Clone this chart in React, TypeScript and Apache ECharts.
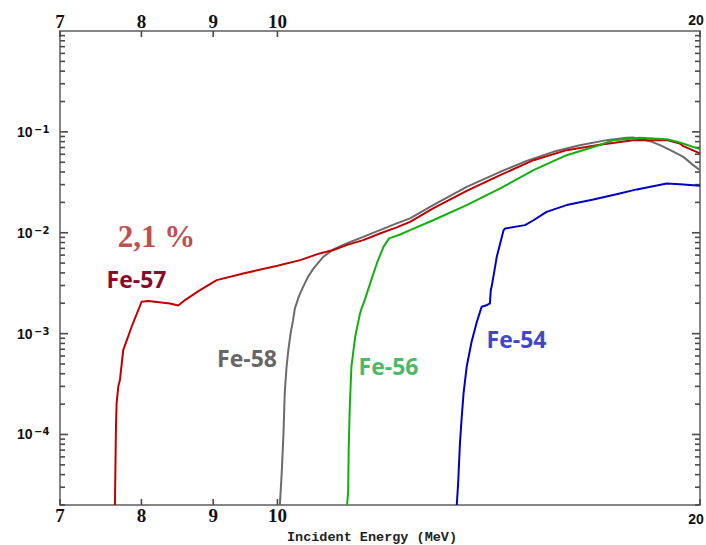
import React, { useEffect, useRef } from 'react';
import * as echarts from 'echarts';

const X_MIN = 7;
const X_MAX = 20;
const Y_MIN = 2e-5;
const Y_MAX = 1;

const xTickValues = [7, 8, 9, 10, 20];
const xTickLabels = ['7', '8', '9', '10', '20'];
const yDecades = [1e-4, 1e-3, 1e-2, 1e-1];
const yDecadeExponents = ['−4', '−3', '−2', '−1'];
const yMinorMultipliers = [2, 3, 4, 5, 6, 7, 8, 9];
const yMinorDecades = [1e-5, 1e-4, 1e-3, 1e-2, 1e-1];

const fe57: [number, number][] = [
  [7.66, 2.0e-5], [7.673, 1.19e-4], [7.681, 2.03e-4], [7.702, 2.97e-4], [7.723, 3.46e-4],
  [7.765, 6.86e-4], [7.873, 1.17e-3], [8.003, 2.07e-3], [8.091, 2.1e-3], [8.384, 1.99e-3],
  [8.499, 1.9e-3], [8.593, 2.15e-3], [8.807, 2.7e-3], [9.052, 3.39e-3], [9.455, 3.95e-3],
  [10.0, 4.7e-3], [10.38, 5.35e-3], [10.72, 6.24e-3], [10.96, 6.73e-3], [11.2, 7.54e-3],
  [11.51, 8.45e-3], [11.83, 9.84e-3], [12.16, 1.13e-2], [12.43, 1.28e-2], [12.91, 1.74e-2],
  [13.64, 2.6e-2], [14.41, 3.72e-2], [15.22, 5.24e-2], [16.07, 6.59e-2], [16.97, 7.45e-2],
  [17.92, 8.28e-2], [18.94, 8.28e-2], [19.35, 7.67e-2], [19.46, 7.21e-2], [20.0, 6.11e-2],
];

const fe58: [number, number][] = [
  [10.04, 2.0e-5], [10.07, 4.12e-5], [10.1, 1.03e-4], [10.12, 2.55e-4], [10.15, 4.6e-4],
  [10.18, 6.86e-4], [10.22, 1.02e-3], [10.26, 1.36e-3], [10.29, 1.78e-3], [10.36, 2.35e-3],
  [10.43, 2.91e-3], [10.52, 3.7e-3], [10.61, 4.43e-3], [10.78, 5.77e-3],
  [10.96, 6.83e-3], [11.2, 7.83e-3], [11.51, 9.1e-3], [11.83, 1.06e-2], [12.16, 1.24e-2],
  [12.43, 1.39e-2], [12.91, 1.88e-2], [13.64, 2.85e-2], [14.41, 4.02e-2], [15.05, 5.16e-2],
  [15.72, 6.34e-2], [16.42, 7.38e-2], [17.16, 8.28e-2], [17.73, 8.73e-2], [17.92, 8.81e-2],
  [18.12, 8.5e-2], [18.43, 8.09e-2], [18.73, 7.38e-2], [18.94, 6.85e-2], [19.25, 6.11e-2],
  [19.46, 5.65e-2], [19.78, 4.68e-2], [20.0, 4.17e-2],
];

const fe56: [number, number][] = [
  [11.21, 2.0e-5], [11.23, 2.7e-5], [11.24, 7.0e-5], [11.26, 1.88e-4], [11.29, 4.69e-4],
  [11.36, 9.3e-4], [11.45, 1.58e-3], [11.48, 1.78e-3], [11.54, 2.15e-3], [11.6, 2.7e-3],
  [11.77, 4.96e-3], [11.9, 7.25e-3], [12.01, 8.79e-3], [12.23, 9.6e-3], [12.43, 1.06e-2],
  [12.91, 1.33e-2], [13.64, 1.88e-2], [14.41, 2.75e-2], [15.22, 4.17e-2], [16.07, 5.87e-2],
  [16.97, 7.4e-2], [17.35, 8.28e-2], [17.92, 8.61e-2], [18.12, 8.73e-2], [18.94, 8.47e-2],
  [19.35, 7.85e-2], [20.0, 6.74e-2],
];

const fe54: [number, number][] = [
  [13.42, 2.0e-5], [13.45, 3.28e-5], [13.49, 8.17e-5], [13.53, 1.5e-4], [13.57, 2.55e-4],
  [13.64, 4.69e-4], [13.75, 8.3e-4], [13.87, 1.31e-3], [13.98, 1.85e-3], [14.09, 1.91e-3],
  [14.17, 1.99e-3], [14.19, 2.7e-3], [14.21, 2.91e-3], [14.33, 5.77e-3], [14.49, 1.06e-2],
  [14.53, 1.1e-2], [15.01, 1.19e-2], [15.22, 1.33e-2], [15.55, 1.61e-2], [16.07, 1.88e-2],
  [16.79, 2.14e-2], [17.44, 2.41e-2], [18.03, 2.69e-2], [18.94, 3.08e-2], [19.35, 3.03e-2],
  [20.0, 2.92e-2],
];

const seriesNames = ['Fe-58', 'Fe-57', 'Fe-56', 'Fe-54'];
const annotationTexts = ['2,1 %', 'Fe-57', 'Fe-58', 'Fe-56', 'Fe-54'];
const axisTitle = 'Incident Energy (MeV)';

const TICK = '#4a4a4a';
const LABEL = '#111';

function txt(x: number, y: number, text: string, st: any, align = 'center', valign = 'middle') {
  return {
    type: 'text',
    x,
    y,
    style: {
      text,
      fill: LABEL,
      ...st,
      textAlign: align,
      textVerticalAlign: valign,
      align,
      verticalAlign: valign,
    },
  };
}

function tickRect(x: number, y: number, w: number, h: number) {
  return {
    type: 'rect',
    shape: { x: Math.min(x, x + w), y: Math.min(y, y + h), width: Math.abs(w), height: Math.abs(h) },
    style: { fill: TICK },
  };
}

export default function App() {
  const ref = useRef<HTMLDivElement>(null);

  useEffect(() => {
    if (!ref.current) return;
    const chart = echarts.init(ref.current, null, { renderer: 'svg' });

    const minorValues: number[] = [];
    yMinorDecades.forEach((d) =>
      yMinorMultipliers.forEach((m) => {
        const v = m * d;
        if (v >= Y_MIN * 0.999 && v <= Y_MAX) minorValues.push(v);
      })
    );

    const lineSeries = (name: string, data: [number, number][], color: string) => ({
      type: 'line',
      name,
      data,
      showSymbol: false,
      symbol: 'none',
      smooth: false,
      lineStyle: { color, width: 2 },
      itemStyle: { color },
    });

    const yTickSeries = (name: string, values: number[], len: number) => ({
      type: 'custom',
      name,
      clip: false,
      data: values.map((v) => [X_MIN, v]),
      renderItem: (params: any, api: any) => {
        const v = api.value(1);
        const l = api.coord([X_MIN, v]);
        const r = api.coord([X_MAX, v]);
        return {
          type: 'group',
          children: [tickRect(l[0], l[1] - 0.8, len, 1.6), tickRect(r[0], r[1] - 0.8, -len, 1.6)],
        };
      },
    });

    chart.setOption({
      animation: false,
      backgroundColor: '#fff',
      grid: {
        left: 60,
        right: 6,
        top: 31,
        bottom: 40,
        show: true,
        borderColor: '#5e5e5e',
        borderWidth: 1.5,
      },
      xAxis: {
        type: 'log',
        logBase: 10,
        min: X_MIN,
        max: X_MAX,
        axisLine: { show: false },
        axisTick: { show: false },
        axisLabel: { show: false },
        splitLine: { show: false },
      },
      yAxis: {
        type: 'log',
        logBase: 10,
        min: Y_MIN,
        max: Y_MAX,
        axisLine: { show: false },
        axisTick: { show: false },
        axisLabel: { show: false },
        splitLine: { show: false },
      },
      series: [
        lineSeries(seriesNames[0], fe58, '#6b6b6b'),
        lineSeries(seriesNames[1], fe57, '#c00000'),
        lineSeries(seriesNames[2], fe56, '#10b010'),
        lineSeries(seriesNames[3], fe54, '#0000c4'),
        {
          type: 'custom',
          name: 'xTicks',
          clip: false,
          data: xTickValues.map((v) => [v, Y_MIN]),
          renderItem: (params: any, api: any) => {
            const x = api.value(0);
            const b = api.coord([x, Y_MIN]);
            const t = api.coord([x, Y_MAX]);
            const label = xTickLabels[params.dataIndex];
            const sans = label === '20';
            const font = sans
              ? { fontFamily: 'Liberation Sans', fontSize: 14, fontWeight: 'bold' }
              : { fontFamily: 'Liberation Serif', fontSize: 19, fontWeight: 'bold' };
            const dx = sans ? -4 : 0;
            return {
              type: 'group',
              children: [
                tickRect(b[0] - 0.8, b[1], 1.6, -6),
                tickRect(t[0] - 0.8, t[1], 1.6, 6),
                txt(t[0] + dx, t[1] - (sans ? 11 : 9.5), label, font),
                txt(b[0] + dx, b[1] + (sans ? 14 : 10), label, font),
              ],
            };
          },
        },
        yTickSeries('yMajorTicks', yDecades, 8),
        yTickSeries('yMinorTicks', minorValues, 5),
        {
          type: 'custom',
          name: 'yLabels',
          clip: false,
          data: yDecades.map((d) => [X_MIN, d]),
          renderItem: (params: any, api: any) => {
            const v = api.value(1);
            const l = api.coord([X_MIN, v]);
            return {
              type: 'group',
              children: [
                txt(l[0] - 27.5, l[1], '10', { fontFamily: 'Liberation Sans', fontSize: 14, fontWeight: 'bold' }, 'right'),
                txt(l[0] - 26, l[1] - 2.5, yDecadeExponents[params.dataIndex], { fontFamily: 'DejaVu Sans', fontSize: 10, fontWeight: 'bold' }, 'left'),
              ],
            };
          },
        },
      ],
      graphic: [
        txt(372, 537, axisTitle, { fontFamily: 'Liberation Mono', fontSize: 13.5, fontWeight: 'bold', fill: '#222' }),
        txt(156.5, 236, annotationTexts[0], { fontFamily: 'Liberation Serif', fontSize: 31, fontWeight: 'bold', fill: '#c0504d' }),
        txt(136.5, 279, annotationTexts[1], { fontFamily: 'Open Sans', fontSize: 23, fontWeight: 'bold', fill: '#8b0a2a' }),
        txt(247, 357.5, annotationTexts[2], { fontFamily: 'Open Sans', fontSize: 23, fontWeight: 'bold', fill: '#666666' }),
        txt(388.5, 365.5, annotationTexts[3], { fontFamily: 'Open Sans', fontSize: 23, fontWeight: 'bold', fill: '#4cb86a' }),
        txt(516.5, 338.5, annotationTexts[4], { fontFamily: 'Open Sans', fontSize: 23, fontWeight: 'bold', fill: '#4048c8' }),
      ],
    });

    return () => chart.dispose();
  }, []);

  return (
    <div
      ref={ref}
      style={{ position: 'fixed', left: 0, top: 0, width: 706, height: 545, background: '#fff' }}
    />
  );
}
